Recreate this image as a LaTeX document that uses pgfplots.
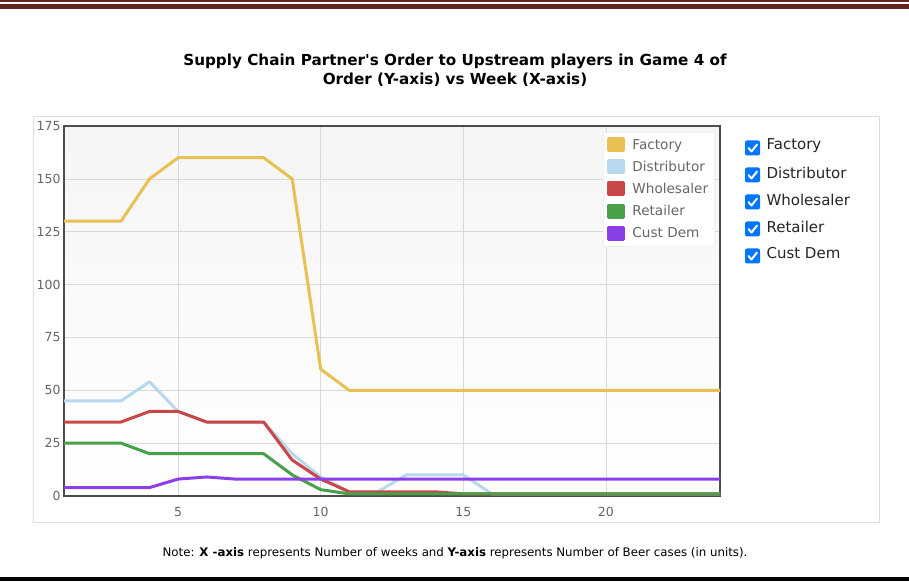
\documentclass[border=0pt]{standalone}
\usepackage{pgfplots}
\pgfplotsset{compat=1.18}
\usepackage{fontspec}
\setmainfont{DejaVu Sans}
\newfontfamily\titlefont{DejaVu Sans}[Ligatures=TeXOff]
\definecolor{cFac}{RGB}{232,192,84}
\definecolor{cDis}{RGB}{184,216,240}
\definecolor{cWho}{RGB}{200,72,72}
\definecolor{cRet}{RGB}{72,160,72}
\definecolor{cCus}{RGB}{138,63,232}
\definecolor{maroon}{RGB}{99,37,35}
\definecolor{cbox}{RGB}{0,117,255}
\definecolor{tickgray}{RGB}{102,102,102}
\begin{document}
\begin{tikzpicture}[x=1pt,y=1pt]
\path[use as bounding box] (0,0) rectangle (909,581);
% header / footer rules
\fill[maroon] (0,579) rectangle (909,581);
\fill[maroon] (0,572) rectangle (909,577);
\fill[black] (0,0) rectangle (909,4);
% panel
\draw[black!13,fill=white] (33,59) rectangle (879,465);
% title
\node[font=\titlefont\bfseries\fontsize{15.2}{19}\selectfont, align=center] at (455,511) {Supply Chain Partner's Order to Upstream players in Game 4 of\\Order (Y-axis) vs Week (X-axis)};
% note
\node[font=\fontsize{11.8}{13}\selectfont] at (455,28) {Note: \textbf{X -axis} represents Number of weeks and \textbf{Y-axis} represents Number of Beer cases (in units).};
\begin{axis}[
  at={(64pt,85pt)}, anchor=south west,
  scale only axis, width=656pt, height=370pt,
  xmin=1, xmax=24, ymin=0, ymax=175,
  xtick={5,10,15,20}, ytick={0,25,...,175},
  grid=major, major grid style={black!15, line width=0.6pt},
  axis line style={black!70, line width=1.6pt},
  tick style={draw=none},
  ticklabel style={font=\fontsize{12.5}{14}\selectfont, text=tickgray},
  /pgf/number format/assume math mode=true,
  xticklabel style={yshift=-8pt},
  axis background/.style={top color=black!4, middle color=white, bottom color=white},
  legend cell align=left,
  legend style={at={(0.822,0.984)}, anchor=north west, draw=black!6, fill=white,
    font=\fontsize{13.6}{15}\selectfont, text=tickgray, row sep=6.3pt, inner xsep=4pt, inner ysep=5pt},
  legend image code/.code={\fill[#1] (4pt,-6pt) rectangle (19pt,6pt); \path (24pt,0pt);},
  every axis plot/.append style={line width=3pt, line join=round},
]
\addplot[cFac] coordinates {(1,130)(2,130)(3,130)(4,150)(5,160)(6,160)(7,160)(8,160)(9,150)(10,60)(11,50)(12,50)(13,50)(14,50)(15,50)(16,50)(17,50)(18,50)(19,50)(20,50)(21,50)(22,50)(23,50)(24,50)};
\addlegendentry{Factory}
\addplot[cDis] coordinates {(1,45)(2,45)(3,45)(4,54)(5,40)(6,35)(7,35)(8,35)(9,20)(10,9)(11,2)(12,2)(13,10)(14,10)(15,10)(16,1)(17,1)(18,1)(19,1)(20,1)(21,1)(22,1)(23,1)(24,1)};
\addlegendentry{Distributor}
\addplot[cWho] coordinates {(1,35)(2,35)(3,35)(4,40)(5,40)(6,35)(7,35)(8,35)(9,17)(10,8)(11,2)(12,2)(13,2)(14,2)(15,1)(16,1)(17,1)(18,1)(19,1)(20,1)(21,1)(22,1)(23,1)(24,1)};
\addlegendentry{Wholesaler}
\addplot[cRet] coordinates {(1,25)(2,25)(3,25)(4,20)(5,20)(6,20)(7,20)(8,20)(9,10)(10,3)(11,1)(12,1)(13,1)(14,1)(15,1)(16,1)(17,1)(18,1)(19,1)(20,1)(21,1)(22,1)(23,1)(24,1)};
\addlegendentry{Retailer}
\addplot[cCus] coordinates {(1,4)(2,4)(3,4)(4,4)(5,8)(6,9)(7,8)(8,8)(9,8)(10,8)(11,8)(12,8)(13,8)(14,8)(15,8)(16,8)(17,8)(18,8)(19,8)(20,8)(21,8)(22,8)(23,8)(24,8)};
\addlegendentry{Cust Dem}
\end{axis}
% checkbox list
\foreach \lab [count=\i from 0] in {Factory,Distributor,Wholesaler,Retailer,Cust Dem}{
  \pgfmathsetmacro{\yy}{433-27*\i}
  \fill[cbox, rounded corners=2pt] (745,\yy-7.5) rectangle (760,\yy+7.5);
  \draw[white, line width=2pt, line cap=round, line join=round] (748.5,\yy) -- (751.5,\yy-3.5) -- (757,\yy+3.5);
  \node[anchor=west, font=\fontsize{15}{17}\selectfont, text=black!85] at (763,\yy+2.5) {\lab};
}
\end{tikzpicture}
\end{document}
